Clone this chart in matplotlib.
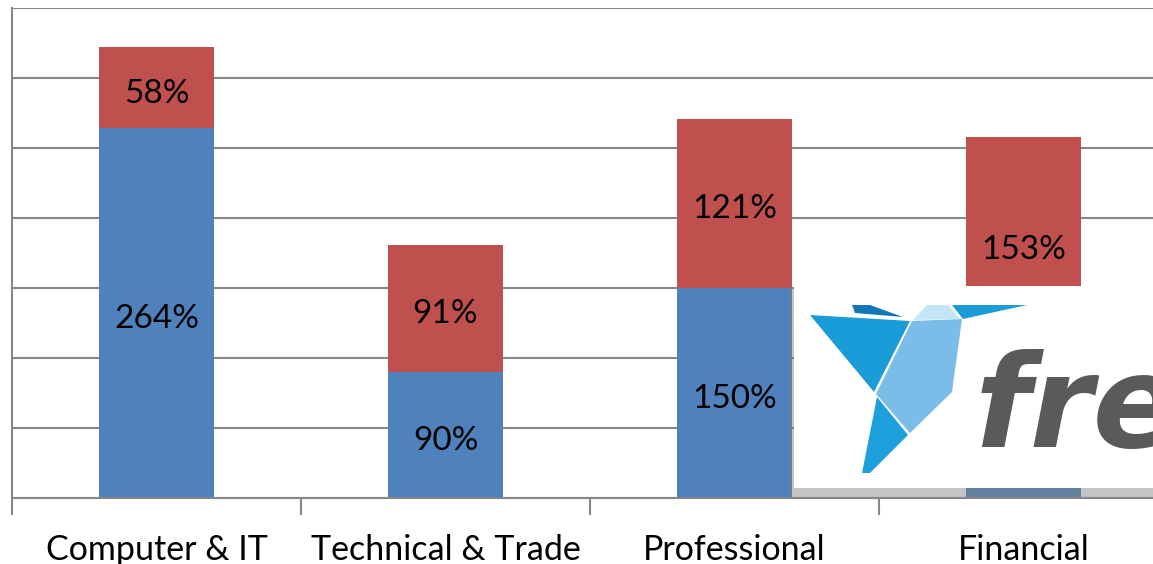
import matplotlib.pyplot as plt
from matplotlib.patches import Polygon

categories = ["Computer & IT", "Technical & Trade", "Professional", "Financial"]
blue_vals = [264, 90, 150, 105]
red_vals = [58, 91, 121, 153]
blue_labels = ["264%", "90%", "150%", "105%"]
red_labels = ["58%", "91%", "121%", "153%"]

BLUE = "#4f81bd"
RED = "#c0504d"
GRID = "#868686"

W, H = 1153, 564
fig = plt.figure(figsize=(W / 100, H / 100), dpi=100)
plt.rcParams["font.family"] = ["Lato", "DejaVu Sans"]

# axes runs a bit past the right edge of the figure
ax = fig.add_axes([12 / W, 66 / H, 1156 / W, 490 / H])
x = list(range(len(categories)))
ax.bar(x, blue_vals, width=0.4, color=BLUE, zorder=2)
ax.bar(x, red_vals, width=0.4, bottom=blue_vals, color=RED, zorder=2)

for i in x:
    ax.annotate(blue_labels[i], (i, blue_vals[i] / 2), xytext=(0, -2),
                textcoords="offset points", ha="center",
                va="center_baseline", fontsize=24, color="black", zorder=3)
    ax.annotate(red_labels[i], (i, blue_vals[i] + red_vals[i] / 2),
                xytext=(0, -2), textcoords="offset points", ha="center",
                va="center_baseline", fontsize=24, color="black", zorder=3)

ax.set_xlim(-0.5, 3.5)
ax.set_ylim(0, 350)
ax.set_yticks(range(0, 351, 50))
ax.set_yticklabels([])
ax.tick_params(axis="y", length=0)
ax.grid(axis="y", color=GRID, linewidth=1.5, zorder=0)

ax.set_xticks([-0.5, 0.5, 1.5, 2.5, 3.5])
ax.set_xticklabels([])
ax.tick_params(axis="x", which="major", length=12, width=1.5, color=GRID)
ax.set_xticks(x, minor=True)
ax.set_xticklabels(categories, minor=True, fontsize=24.5)
ax.tick_params(axis="x", which="minor", length=0, pad=26)

for side in ["top", "right"]:
    ax.spines[side].set_visible(False)
for side in ["left", "bottom"]:
    ax.spines[side].set_color(GRID)
    ax.spines[side].set_linewidth(1.5)


# logo box over the right corner, in figure pixels
def px(pts):
    return [(a / W, 1 - b / H) for a, b in pts]


fig.patches.append(Polygon(px([(789, 288), (1160, 288), (1160, 497), (789, 497)]),
                           closed=True, facecolor="#7f7f7f", alpha=0.45,
                           edgecolor="none", transform=fig.transFigure, zorder=5))
fig.patches.append(Polygon(px([(794, 286), (1160, 286), (1160, 488), (794, 488)]),
                           closed=True, facecolor="white", edgecolor="none",
                           transform=fig.transFigure, zorder=6))

bird = [
    ([(852, 305), (870, 305), (903, 317), (855, 313)], "#1577b8"),
    ([(810, 315), (910, 321), (874, 392)], "#1a9cd8"),
    ([(912, 321), (962, 319), (952, 392), (910, 433), (876, 394)], "#7bbde8"),
    ([(877, 397), (908, 435), (870, 473), (862, 473)], "#1ea0dc"),
    ([(927, 305), (948, 305), (960, 319), (913, 320)], "#c5e6f7"),
    ([(952, 305), (1027, 305), (963, 319)], "#1a9cd8"),
]
for pts, col in bird:
    fig.patches.append(Polygon(px(pts), closed=True, facecolor=col,
                               edgecolor="none", transform=fig.transFigure,
                               zorder=7))

fig.text(975 / W, 1 - 447 / H, "free", fontsize=92, fontweight="bold",
         style="italic", color="#5a5a5c", family="DejaVu Sans",
         ha="left", va="baseline", zorder=8)

fig.savefig("out.png", dpi=100)
